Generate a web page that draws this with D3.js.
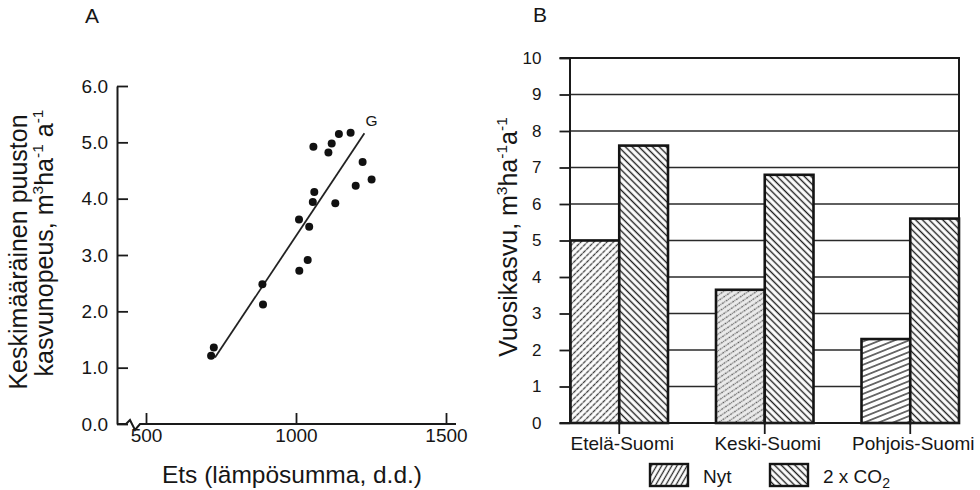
<!DOCTYPE html>
<html>
<head>
<meta charset="utf-8">
<script src="https://cdn.jsdelivr.net/npm/d3@7"></script>
<style>
  body { margin: 0; background: #fff; }
  svg { display: block; font-family: "Liberation Sans", Arial, Helvetica, sans-serif; }
  text { fill: #161616; }
</style>
</head>
<body>
<svg id="chart" width="980" height="490"></svg>
<script>
// Panel A: temperature sum vs mean growth rate
const etsValues = [717, 726, 888, 890, 1010, 1011, 1039, 1044, 1058, 1061, 1056, 1108, 1119, 1131, 1143, 1182, 1199, 1222, 1252];
const growthValues = [1.21, 1.36, 2.48, 2.12, 3.63, 2.72, 2.91, 3.50, 4.92, 4.12, 3.94, 4.82, 4.98, 3.92, 5.15, 5.17, 4.23, 4.65, 4.34];
const fitEts = [730, 1228];
const fitGrowth = [1.18, 5.16];
const xTicksA = [500, 1000, 1500];
const yTicksA = [0, 1, 2, 3, 4, 5, 6];

// Panel B: annual growth by region
const regions = ["Etelä-Suomi", "Keski-Suomi", "Pohjois-Suomi"];
const seriesNames = ["Nyt", "2 x CO2"];
const nytValues = [5.0, 3.65, 2.3];
const co2Values = [7.6, 6.8, 5.6];
const yTicksB = [0, 1, 2, 3, 4, 5, 6, 7, 8, 9, 10];

const ink = "#1a1a1a";
const svg = d3.select("#chart");
const defs = svg.append("defs");

// hatch patterns - vertical line in tile, rotated
function hatch(id, spacing, angle, color, width, bg, dash) {
    const p = defs.append("pattern")
        .attr("id", id)
        .attr("patternUnits", "userSpaceOnUse")
        .attr("width", spacing)
        .attr("height", spacing)
        .attr("patternTransform", `rotate(${angle})`);
    p.append("rect").attr("width", spacing).attr("height", spacing).attr("fill", bg);
    p.append("line")
        .attr("x1", spacing / 2).attr("y1", -1)
        .attr("x2", spacing / 2).attr("y2", spacing + 1)
        .attr("stroke", color)
        .attr("stroke-width", width)
        .attr("stroke-dasharray", dash || null);
}
hatch("co2", 4.8, -45, "#1e1e1e", 1.4, "#fff");
hatch("nyt0", 4.6, 45, "#3c3c3c", 1.3, "#fff", "2.4,0.7");
hatch("nyt1", 4.6, 56, "#555", 1.3, "#ececec", "1.8,0.9");
hatch("nyt2", 5.4, 68, "#2a2a2a", 1.3, "#fff");
hatch("nytLegend", 4.4, 30, "#2a2a2a", 1.3, "#fff");
const nytFills = ["url(#nyt0)", "url(#nyt1)", "url(#nyt2)"];

// text with superscripts: parts = [[text, isSup], ...]
function richText(sel, parts, fs) {
    const rise = fs * 0.4;
    let up = false;
    parts.forEach(([t, sup]) => {
        const ts = sel.append("tspan").text(t);
        if (sup) {
            ts.attr("font-size", fs * 0.62);
            if (!up) { ts.attr("dy", -rise); up = true; }
        } else if (up) {
            ts.attr("dy", rise); up = false;
        }
    });
}

function styleAxis(g, fs) {
    g.selectAll("text").attr("font-size", fs).attr("fill", ink);
    g.selectAll("line").attr("stroke", ink).attr("stroke-width", 1.8);
}

/* ---------------- Panel A ---------------- */
const axisXA = 117;
const xA = d3.scaleLinear().domain([500, 1500]).range([146, 446]);
const yA = d3.scaleLinear().domain([0, 6]).range([424, 86]);

svg.append("text").attr("x", 85).attr("y", 23).attr("font-size", 21).text("A");

const gyA = svg.append("g")
    .attr("transform", `translate(${axisXA},0)`)
    .call(d3.axisLeft(yA).tickValues(yTicksA).tickFormat(d3.format(".1f"))
        .tickSizeInner(-11).tickSizeOuter(0).tickPadding(9));
styleAxis(gyA, 19);
gyA.select(".domain").attr("stroke", ink).attr("stroke-width", 2);

const gxA = svg.append("g")
    .attr("transform", `translate(0,${yA(0)})`)
    .call(d3.axisBottom(xA).tickValues(xTicksA).tickFormat(d3.format("d"))
        .tickSizeInner(-11).tickSizeOuter(0).tickPadding(5));
styleAxis(gxA, 19);
gxA.select(".domain").remove();

// x axis line with break
const y0 = yA(0);
svg.append("path")
    .attr("d", d3.line()([[axisXA, y0], [axisXA + 9, y0], [axisXA + 13, y0 - 4],
        [axisXA + 18, y0 + 6], [axisXA + 23, y0], [xA(1500) + 10, y0]]))
    .attr("fill", "none").attr("stroke", ink).attr("stroke-width", 2);

// regression line
svg.append("path")
    .attr("d", d3.line().x(d => xA(d)).y((d, i) => yA(fitGrowth[i]))(fitEts))
    .attr("fill", "none").attr("stroke", "#222").attr("stroke-width", 1.8);

svg.append("text")
    .attr("x", xA(fitEts[1]) + 1).attr("y", yA(fitGrowth[1]) - 7)
    .attr("font-size", 15.5).text("G");

svg.append("g").selectAll("circle")
    .data(etsValues)
    .join("circle")
    .attr("cx", d => xA(d))
    .attr("cy", (d, i) => yA(growthValues[i]))
    .attr("r", 4)
    .attr("fill", "#111");

svg.append("text")
    .attr("x", 292).attr("y", 483)
    .attr("text-anchor", "middle").attr("font-size", 24.5)
    .text("Ets (lämpösumma, d.d.)");

richText(svg.append("text")
    .attr("transform", "translate(27,252) rotate(-90)")
    .attr("text-anchor", "middle").attr("font-size", 25),
    [["Keskimääräinen puuston", false]], 25);
richText(svg.append("text")
    .attr("transform", "translate(53,243) rotate(-90)")
    .attr("text-anchor", "middle").attr("font-size", 25),
    [["kasvunopeus, m", false], ["3", true], ["ha", false], ["-1", true], [" a", false], ["-1", true]], 25);

/* ---------------- Panel B ---------------- */
const leftB = 569.5, rightB = 959;
const yB = d3.scaleLinear().domain([0, 10]).range([423, 58]);
const xB = d3.scaleBand().domain(regions).range([leftB + 1, rightB]).paddingInner(0.33).paddingOuter(0);
const xSub = d3.scaleBand().domain(seriesNames).range([0, xB.bandwidth()]);

svg.append("text").attr("x", 533).attr("y", 22).attr("font-size", 21).text("B");

// grid lines
svg.append("g").selectAll("line")
    .data(yTicksB.filter(d => d > 0 && d < 10))
    .join("line")
    .attr("x1", leftB).attr("x2", rightB)
    .attr("y1", d => yB(d)).attr("y2", d => yB(d))
    .attr("stroke", "#2a2a2a").attr("stroke-width", 1.3);

const barData = regions.flatMap((r, i) => [
    { region: r, key: seriesNames[0], value: nytValues[i], fill: nytFills[i] },
    { region: r, key: seriesNames[1], value: co2Values[i], fill: "url(#co2)" }
]);

svg.append("g").selectAll("rect")
    .data(barData)
    .join("rect")
    .attr("x", d => xB(d.region) + xSub(d.key))
    .attr("y", d => yB(d.value))
    .attr("width", xSub.bandwidth())
    .attr("height", d => yB(0) - yB(d.value))
    .attr("fill", d => d.fill)
    .attr("stroke", "#141414")
    .attr("stroke-width", 2.6);

// frame: top and right
svg.append("path")
    .attr("d", d3.line()([[leftB - 10, yB(10)], [rightB, yB(10)], [rightB, yB(0)]]))
    .attr("fill", "none").attr("stroke", ink).attr("stroke-width", 2);

const gyB = svg.append("g")
    .attr("transform", `translate(${leftB},0)`)
    .call(d3.axisLeft(yB).tickValues(yTicksB).tickFormat(d3.format("d"))
        .tickSizeInner(10).tickSizeOuter(0).tickPadding(18));
styleAxis(gyB, 17);
gyB.select(".domain").attr("stroke", ink).attr("stroke-width", 2);

const gxB = svg.append("g")
    .attr("transform", `translate(0,${yB(0)})`)
    .call(d3.axisBottom(xB).tickSizeInner(11).tickSizeOuter(0).tickPadding(3));
styleAxis(gxB, 19);
gxB.selectAll("text").attr("dx", 3);
gxB.select(".domain").attr("d", `M${leftB - 10},0H${rightB}`)
    .attr("stroke", ink).attr("stroke-width", 2);

richText(svg.append("text")
    .attr("transform", "translate(517,237) rotate(-90)")
    .attr("text-anchor", "middle").attr("font-size", 25),
    [["Vuosikasvu, m", false], ["3", true], ["ha", false], ["-1", true], ["a", false], ["-1", true]], 25);

// legend
const legend = svg.append("g");
const legendX = [650, 770];
const legendFills = ["url(#nytLegend)", "url(#co2)"];
seriesNames.forEach((name, i) => {
    const g = legend.append("g").attr("transform", `translate(${legendX[i]},464)`);
    g.append("rect").attr("width", 38).attr("height", 22)
        .attr("fill", legendFills[i]).attr("stroke", "#141414").attr("stroke-width", 2.4);
    const t = g.append("text").attr("x", 53).attr("y", 18.5).attr("font-size", 19);
    if (name === "2 x CO2") {
        t.append("tspan").text("2 x CO");
        t.append("tspan").attr("font-size", 14).attr("dy", 5).text("2");
    } else {
        t.text(name);
    }
});
</script>
</body>
</html>
